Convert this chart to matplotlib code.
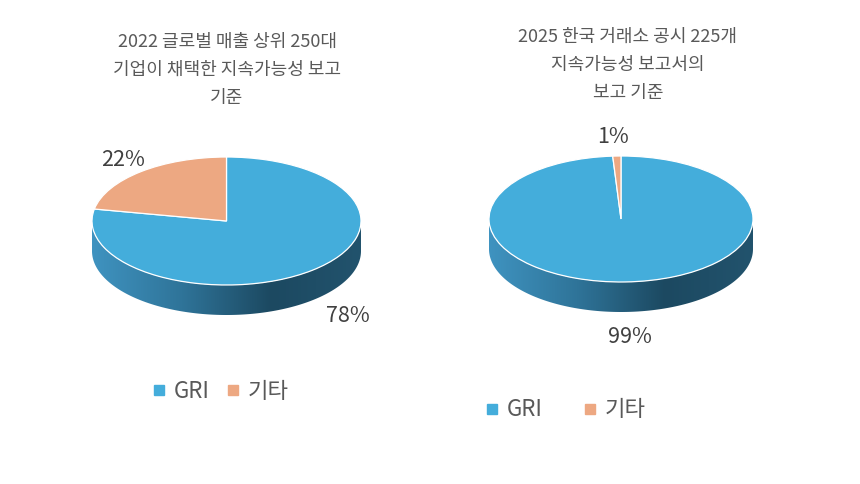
import numpy as np
import matplotlib
matplotlib.use("Agg")
import matplotlib.pyplot as plt
from matplotlib.patches import Polygon
from matplotlib.lines import Line2D
from matplotlib.colors import LinearSegmentedColormap

plt.rcParams['font.family'] = ['Noto Sans CJK KR', 'DejaVu Sans']

# ---- data ----
categories = ['GRI', '기타']
values_2022 = [78, 22]
values_2025 = [99, 1]
title_2022 = '2022 글로벌 매출 상위 250대\n기업이 채택한 지속가능성 보고\n기준'
title_2025 = '2025 한국 거래소 공시 225개\n지속가능성 보고서의\n보고 기준'

top_colors = ['#44ADDB', '#EDA882']
side_colors = [['#3f93c0', '#2f7499', '#1c4961', '#22536d'],
               ['#c98a68', '#a86e50', '#7e5038', '#8a5a40']]

W, H = 860, 484
fig = plt.figure(figsize=(W / 100, H / 100), dpi=100)
fig.patch.set_facecolor('white')

# overlay axes in pixel coordinates for text
tax = fig.add_axes([0, 0, 1, 1])
tax.set_xlim(0, W)
tax.set_ylim(H, 0)
tax.axis('off')


def pie3d(values, cx, cy, rx, ry, depth):
    ax = fig.add_axes([0, 0, 1, 1])
    ax.patch.set_alpha(0)
    wedges, _ = ax.pie(values, colors=top_colors, startangle=90, counterclock=False,
                       radius=1, center=(0, 0),
                       wedgeprops=dict(edgecolor='white', linewidth=0.9, zorder=3))
    d = depth / ry
    for i, w in enumerate(wedges):
        t1, t2 = w.theta1, w.theta2
        for k in (-2, -1, 0, 1):
            a = max(t1, 180 + 360 * k)
            b = min(t2, 360 + 360 * k)
            if b <= a:
                continue
            t = np.radians(np.linspace(a, b, 200))
            top = np.column_stack([np.cos(t), np.sin(t)])
            bot = np.column_stack([np.cos(t[::-1]), np.sin(t[::-1]) - d])
            poly = Polygon(np.vstack([top, bot]), closed=True, facecolor='none',
                           edgecolor='none')
            ax.add_patch(poly)
            cmap = LinearSegmentedColormap.from_list('s', side_colors[i])
            grad = np.linspace(0, 1, 256).reshape(1, -1)
            im = ax.imshow(grad, cmap=cmap, extent=(-1, 1, -1 - d, 0.2),
                           aspect='auto', zorder=1, interpolation='bilinear')
            im.set_clip_path(poly)
    ax.set_aspect('auto')
    ax.set_xlim(-cx / rx, (W - cx) / rx)
    ax.set_ylim((cy - H) / ry, cy / ry)
    ax.axis('off')
    return wedges


pie3d(values_2022, 226.5, 221, 134.5, 64, 30)
pie3d(values_2025, 621, 219, 132, 63, 30)

title_kw = dict(ha='center', va='center', color='#595959', fontsize=13,
                linespacing=1.72)
tax.text(227, 70, title_2022, **title_kw)
tax.text(628, 65, title_2025, **title_kw)

lab_kw = dict(ha='center', va='center', color='#404040', fontsize=15.5)
tax.text(123, 160, f'{values_2022[1]}%', **lab_kw)
tax.text(348, 316, f'{values_2022[0]}%', **lab_kw)
tax.text(613, 137, f'{values_2025[1]}%', **lab_kw)
tax.text(630, 337, f'{values_2025[0]}%', **lab_kw)

handles = [Line2D([], [], marker='s', linestyle='none', markersize=7.5,
                  markerfacecolor=c, markeredgecolor=c) for c in top_colors]
leg_kw = dict(ncol=2, frameon=False, loc='center', handlelength=0.7,
              handletextpad=0.3, labelcolor='#595959', borderpad=0,
              prop=dict(size=16))
fig.legend(handles, categories, bbox_to_anchor=(220 / W, 1 - 391 / H),
           columnspacing=0.7, **leg_kw)
fig.legend(handles, categories, bbox_to_anchor=(565 / W, 1 - 410 / H),
           columnspacing=1.8, **leg_kw)

fig.savefig('out.png', dpi=100)
